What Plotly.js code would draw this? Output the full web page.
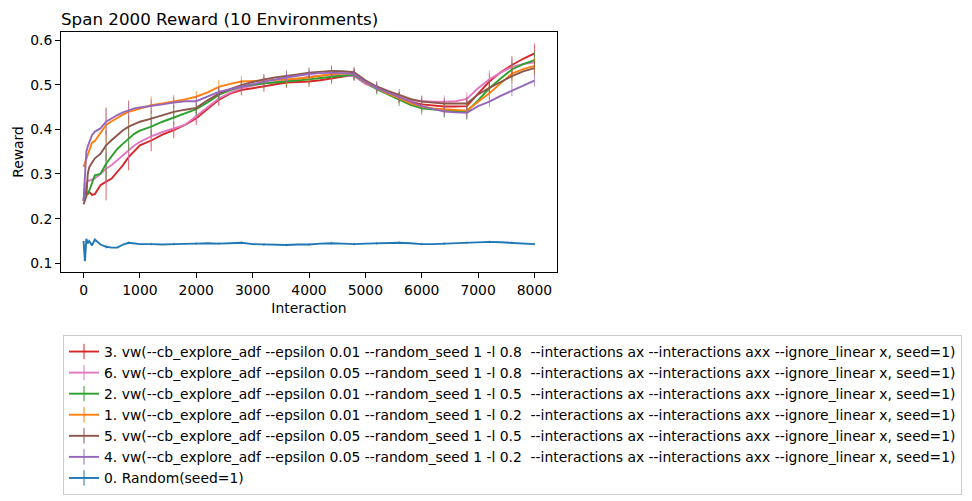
<!DOCTYPE html>
<html>
<head>
<meta charset="utf-8">
<script src="https://cdn.plot.ly/plotly-3.0.1.min.js"></script>
<style>
  html, body { margin: 0; padding: 0; background: #ffffff; }
  #chart { width: 972px; height: 501px; }
</style>
</head>
<body>
<div id="chart"></div>
<script>
// Interaction counts at which the averaged reward is recorded
const interactions = [0, 25, 50, 75, 100, 150, 200, 300, 400, 500, 600, 700, 800, 900, 1000,
  1200, 1400, 1600, 1800, 2000, 2200, 2400, 2600, 2800, 3000, 3200, 3400, 3600, 3800, 4000,
  4200, 4400, 4600, 4800, 5000, 5200, 5400, 5600, 5800, 6000, 6200, 6400, 6600, 6800, 7000,
  7200, 7400, 7600, 7800, 8000];

// Interactions that carry an error bar
const errInteractions = [400, 800, 1200, 1600, 2000, 2400, 2800, 3200, 3600, 4000,
  4400, 4800, 5200, 5600, 6000, 6400, 6800, 7200, 7600, 8000];

const labels = [
  "3. vw(--cb_explore_adf --epsilon 0.01 --random_seed 1 -l 0.8\u00a0 --interactions ax --interactions axx --ignore_linear x, seed=1)",
  "6. vw(--cb_explore_adf --epsilon 0.05 --random_seed 1 -l 0.8\u00a0 --interactions ax --interactions axx --ignore_linear x, seed=1)",
  "2. vw(--cb_explore_adf --epsilon 0.01 --random_seed 1 -l 0.5\u00a0 --interactions ax --interactions axx --ignore_linear x, seed=1)",
  "1. vw(--cb_explore_adf --epsilon 0.01 --random_seed 1 -l 0.2\u00a0 --interactions ax --interactions axx --ignore_linear x, seed=1)",
  "5. vw(--cb_explore_adf --epsilon 0.05 --random_seed 1 -l 0.5\u00a0 --interactions ax --interactions axx --ignore_linear x, seed=1)",
  "4. vw(--cb_explore_adf --epsilon 0.05 --random_seed 1 -l 0.2\u00a0 --interactions ax --interactions axx --ignore_linear x, seed=1)",
  "0. Random(seed=1)"
];

const rewardEps01L08 = [0.240, 0.270, 0.260, 0.255, 0.260, 0.253, 0.255, 0.275, 0.283, 0.290, 0.305, 0.320, 0.338, 0.352, 0.364,
  0.375, 0.388, 0.398, 0.410, 0.425, 0.445, 0.466, 0.480, 0.488, 0.492, 0.496, 0.501, 0.505, 0.506, 0.507,
  0.510, 0.514, 0.518, 0.522, 0.505, 0.493, 0.482, 0.472, 0.462, 0.456, 0.453, 0.451, 0.451, 0.452, 0.480,
  0.507, 0.528, 0.544, 0.558, 0.570];
const rewardEps05L08 = [0.240, 0.270, 0.280, 0.285, 0.285, 0.288, 0.290, 0.300, 0.312, 0.320, 0.331, 0.342, 0.354, 0.364, 0.372,
  0.384, 0.394, 0.402, 0.410, 0.430, 0.450, 0.469, 0.482, 0.492, 0.498, 0.503, 0.506, 0.509, 0.513, 0.518,
  0.520, 0.522, 0.521, 0.519, 0.502, 0.492, 0.480, 0.470, 0.465, 0.463, 0.462, 0.462, 0.463, 0.468, 0.492,
  0.512, 0.527, 0.540, 0.546, 0.550];
const rewardEps01L05 = [0.240, 0.255, 0.260, 0.256, 0.262, 0.280, 0.297, 0.300, 0.323, 0.340, 0.356, 0.368, 0.379, 0.390, 0.397,
  0.406, 0.417, 0.427, 0.436, 0.445, 0.460, 0.477, 0.488, 0.496, 0.500, 0.503, 0.505, 0.507, 0.510, 0.512,
  0.515, 0.518, 0.520, 0.522, 0.505, 0.490, 0.478, 0.466, 0.455, 0.447, 0.444, 0.442, 0.441, 0.440, 0.465,
  0.492, 0.514, 0.534, 0.546, 0.555];
const rewardEps01L02 = [0.316, 0.325, 0.338, 0.345, 0.355, 0.370, 0.374, 0.392, 0.410, 0.418, 0.426, 0.433, 0.439, 0.443, 0.447,
  0.454, 0.458, 0.462, 0.467, 0.473, 0.483, 0.495, 0.502, 0.507, 0.508, 0.510, 0.511, 0.512, 0.514, 0.516,
  0.520, 0.524, 0.525, 0.525, 0.505, 0.492, 0.480, 0.470, 0.458, 0.451, 0.447, 0.445, 0.443, 0.442, 0.462,
  0.481, 0.503, 0.525, 0.535, 0.542];
const rewardEps05L05 = [0.232, 0.240, 0.250, 0.300, 0.315, 0.325, 0.335, 0.345, 0.364, 0.376, 0.387, 0.398, 0.406, 0.412, 0.417,
  0.424, 0.432, 0.439, 0.444, 0.448, 0.465, 0.480, 0.490, 0.499, 0.506, 0.512, 0.516, 0.519, 0.523, 0.527,
  0.529, 0.531, 0.530, 0.528, 0.510, 0.496, 0.486, 0.477, 0.468, 0.462, 0.460, 0.458, 0.458, 0.458, 0.478,
  0.493, 0.506, 0.519, 0.530, 0.537];
const rewardEps05L02 = [0.240, 0.308, 0.350, 0.362, 0.372, 0.387, 0.395, 0.402, 0.417, 0.425, 0.432, 0.438, 0.443, 0.447, 0.449,
  0.452, 0.456, 0.460, 0.463, 0.463, 0.474, 0.484, 0.490, 0.495, 0.501, 0.507, 0.512, 0.516, 0.520, 0.524,
  0.526, 0.527, 0.526, 0.524, 0.506, 0.493, 0.482, 0.472, 0.462, 0.452, 0.446, 0.440, 0.438, 0.437, 0.452,
  0.462, 0.475, 0.487, 0.498, 0.509];
const rewardRandom = [0.150, 0.105, 0.155, 0.145, 0.150, 0.140, 0.153, 0.142, 0.137, 0.135, 0.135, 0.142, 0.146, 0.144, 0.143,
  0.143, 0.142, 0.143, 0.143, 0.144, 0.145, 0.144, 0.145, 0.146, 0.143, 0.142, 0.141, 0.141, 0.142, 0.142,
  0.144, 0.145, 0.144, 0.143, 0.144, 0.145, 0.145, 0.146, 0.145, 0.143, 0.143, 0.144, 0.146, 0.146, 0.147,
  0.148, 0.147, 0.146, 0.145, 0.143];

// Half-widths of the error bars at errInteractions
const errEps01L08 = [0.042, 0.030, 0.024, 0.018, 0.015, 0.014, 0.012, 0.012, 0.012, 0.012, 0.012, 0.012, 0.011, 0.011, 0.012, 0.013, 0.014, 0.018, 0.020, 0.022];
const errEps05L08 = [0.036, 0.028, 0.022, 0.016, 0.014, 0.013, 0.011, 0.011, 0.011, 0.011, 0.011, 0.011, 0.011, 0.011, 0.013, 0.014, 0.015, 0.020, 0.019, 0.020];
const errEps01L05 = [0.036, 0.027, 0.022, 0.016, 0.013, 0.012, 0.011, 0.011, 0.011, 0.011, 0.011, 0.012, 0.012, 0.014, 0.014, 0.016, 0.018, 0.017, 0.018, 0.019];
const errEps01L02 = [0.040, 0.026, 0.020, 0.015, 0.013, 0.016, 0.012, 0.011, 0.012, 0.012, 0.012, 0.012, 0.011, 0.012, 0.014, 0.013, 0.015, 0.014, 0.016, 0.018];
const errEps05L05 = [0.034, 0.024, 0.018, 0.014, 0.012, 0.012, 0.011, 0.012, 0.013, 0.012, 0.012, 0.012, 0.012, 0.013, 0.012, 0.012, 0.014, 0.012, 0.018, 0.016];
const errEps05L02 = [0.030, 0.020, 0.015, 0.012, 0.011, 0.011, 0.010, 0.010, 0.010, 0.010, 0.010, 0.011, 0.011, 0.012, 0.012, 0.012, 0.014, 0.012, 0.013, 0.013];
const errRandom   = [0.004, 0.003, 0.003, 0.003, 0.003, 0.003, 0.003, 0.003, 0.003, 0.003, 0.003, 0.003, 0.003, 0.003, 0.003, 0.003, 0.003, 0.003, 0.003, 0.003];

const colors = ["#d62728", "#e377c2", "#2ca02c", "#ff7f0e", "#8c564b", "#9467bd", "#1f77b4"];
const errColors = ["rgba(214,39,40,0.8)", "rgba(227,119,194,0.8)", "rgba(44,160,44,0.8)", "rgba(255,127,14,0.8)",
  "rgba(140,86,75,0.8)", "rgba(148,103,189,0.8)", "rgba(31,119,180,0.8)"];

const seriesValues = [rewardEps01L08, rewardEps05L08, rewardEps01L05, rewardEps01L02, rewardEps05L05, rewardEps05L02, rewardRandom];
const seriesErrors = [errEps01L08, errEps05L08, errEps01L05, errEps01L02, errEps05L05, errEps05L02, errRandom];

// Spread the sparse error values onto the full interaction grid (0 where no bar is drawn)
function fullErrors(errs) {
  return interactions.map(x => {
    const j = errInteractions.indexOf(x);
    return j >= 0 ? errs[j] : 0;
  });
}

const FONT = "DejaVu Sans";

// Data traces: mean reward lines with error bars
const dataTraces = seriesValues.map((vals, i) => ({
  type: "scatter",
  mode: "lines",
  name: labels[i],
  showlegend: false,
  x: interactions,
  y: vals,
  line: { color: colors[i], width: 1.9 },
  error_y: {
    type: "data",
    array: fullErrors(seriesErrors[i]),
    visible: true,
    color: errColors[i],
    thickness: 0.9,
    width: 0
  },
  hoverinfo: "skip"
}));

// Legend entries: a line crossed by a short vertical tick, like an error-bar handle
const legendTraces = labels.map((name, i) => ({
  type: "scatter",
  mode: "lines+markers",
  name: name,
  x: [null],
  y: [null],
  line: { color: colors[i], width: 1.9 },
  marker: { symbol: "line-ns-open", size: 11, color: colors[i], line: { color: colors[i], width: 1 } },
  hoverinfo: "skip"
}));

// Plot area spans x 61..557 and y 32..272 in a 972x501 figure;
// the paper extends to the right edge so the wide legend fits without pushing margins.
const layout = {
  width: 972,
  height: 501,
  paper_bgcolor: "#ffffff",
  plot_bgcolor: "#ffffff",
  margin: { l: 61, r: 0, t: 32, b: 229, pad: 0 },
  font: { family: FONT, size: 13.9, color: "#000000" },
  title: {
    text: "Span 2000 Reward (10 Environments)",
    font: { family: FONT, size: 16.7, color: "#000000" },
    x: 0, xref: "paper", xanchor: "left",
    y: 0.961, yref: "container", yanchor: "middle"
  },
  xaxis: {
    domain: [0, 496 / 911],
    range: [-400, 8400],
    tickmode: "array",
    tickvals: [0, 1000, 2000, 3000, 4000, 5000, 6000, 7000, 8000],
    ticktext: ["0", "1000", "2000", "3000", "4000", "5000", "6000", "7000", "8000"],
    tickangle: 0,
    ticks: "outside", ticklen: 5, tickwidth: 1, tickcolor: "#000000",
    showline: true, linecolor: "#000000", linewidth: 1, mirror: true,
    showgrid: false, zeroline: false,
    tickfont: { family: FONT, size: 13.9, color: "#000000" },
    title: { text: "Interaction", font: { family: FONT, size: 13.9, color: "#000000" }, standoff: 6 },
    automargin: false
  },
  yaxis: {
    range: [0.0805, 0.618],
    tickmode: "array",
    tickvals: [0.1, 0.2, 0.3, 0.4, 0.5, 0.6],
    ticktext: ["0.1", "0.2", "0.3", "0.4", "0.5", "0.6"],
    ticks: "outside", ticklen: 5, tickwidth: 1, tickcolor: "#000000",
    showline: true, linecolor: "#000000", linewidth: 1, mirror: true,
    showgrid: false, zeroline: false,
    tickfont: { family: FONT, size: 13.9, color: "#000000" },
    title: { text: "Reward", font: { family: FONT, size: 13.9, color: "#000000" }, standoff: 3 },
    automargin: false
  },
  showlegend: true,
  legend: {
    xref: "paper", yref: "paper",
    x: 2 / 911, y: -63 / 240,
    xanchor: "left", yanchor: "top",
    orientation: "v",
    bgcolor: "rgba(255,255,255,0.8)",
    bordercolor: "#cccccc",
    borderwidth: 1,
    font: { family: FONT, size: 13.9, color: "#000000" }
  }
};

Plotly.newPlot("chart", dataTraces.concat(legendTraces), layout, { staticPlot: true, displayModeBar: false });
</script>
</body>
</html>
